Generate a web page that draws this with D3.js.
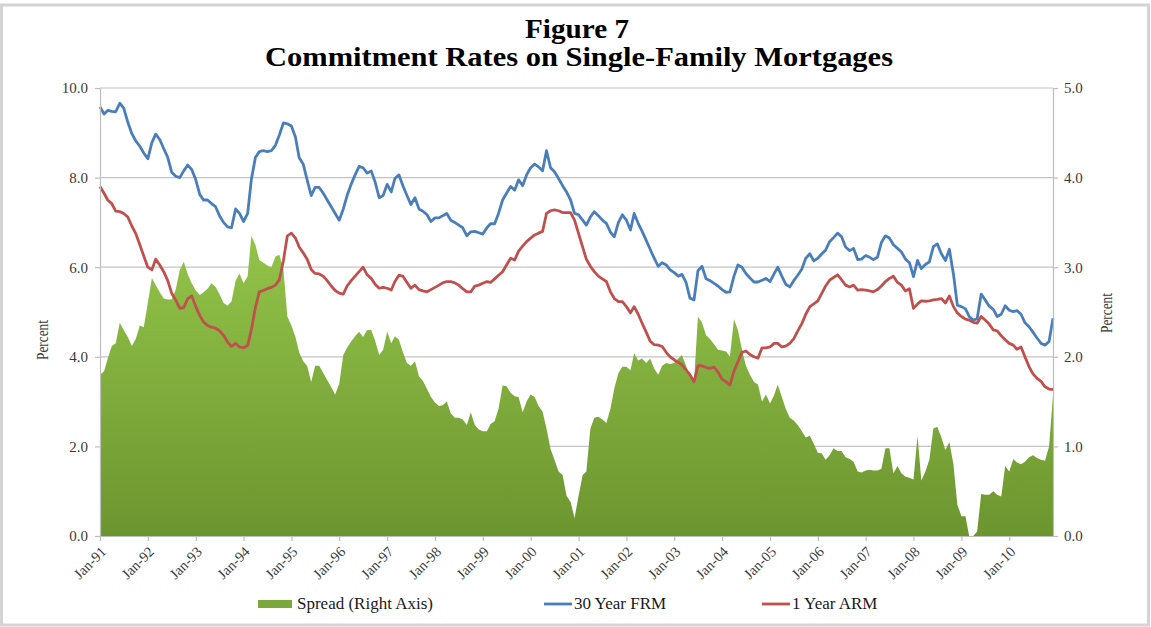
<!DOCTYPE html>
<html><head><meta charset="utf-8">
<script src="https://cdn.jsdelivr.net/npm/d3@7"></script>
<style>body{margin:0;background:#fff;} svg{display:block;}</style>
</head><body>
<svg id="chart" width="1151" height="627"></svg>
<script>
// ---- DATA (monthly, Jan-1991 .. Dec-2010) ----
const firstMonth = [1991, 0];
const monthCount = 240;
const leftTicks = [0, 2, 4, 6, 8, 10];
const rightTicks = [0, 1, 2, 3, 4, 5];
const seriesNames = ["Spread (Right Axis)", "30 Year FRM", "1 Year ARM"];

const frm = [
 9.58, 9.42, 9.5, 9.48, 9.47, 9.66, 9.55, 9.24, 8.98, 8.82, 8.7, 8.55,
 8.42, 8.78, 8.97, 8.85, 8.65, 8.45, 8.12, 8.03, 8.0, 8.15, 8.28, 8.18,
 7.95, 7.62, 7.5, 7.5, 7.42, 7.35, 7.15, 7.0, 6.9, 6.88, 7.3, 7.2,
 7.02, 7.2, 7.95, 8.45, 8.58, 8.6, 8.58, 8.6, 8.72, 8.95, 9.22, 9.2,
 9.15, 8.9, 8.45, 8.3, 7.95, 7.6, 7.78, 7.78, 7.65, 7.5, 7.35, 7.2,
 7.05, 7.3, 7.6, 7.85, 8.06, 8.25, 8.22, 8.1, 8.15, 7.9, 7.55, 7.6,
 7.85, 7.68, 7.98, 8.06, 7.82, 7.6, 7.4, 7.55, 7.3, 7.25, 7.17, 7.02,
 7.1, 7.1, 7.15, 7.2, 7.05, 7.0, 6.94, 6.88, 6.7, 6.79, 6.8, 6.77,
 6.74, 6.88, 6.97, 6.97, 7.2, 7.5, 7.65, 7.8, 7.72, 7.95, 7.82, 8.06,
 8.22, 8.3, 8.24, 8.15, 8.6, 8.22, 8.13, 7.98, 7.82, 7.68, 7.5, 7.2,
 7.17, 7.05, 6.94, 7.12, 7.24, 7.15, 7.05, 6.98, 6.78, 6.68, 7.0, 7.17,
 7.05, 6.83, 7.2, 6.98, 6.8, 6.6, 6.4, 6.2, 6.02, 6.1, 6.05, 5.94,
 5.88, 5.8, 5.84, 5.66, 5.31, 5.27, 5.92, 6.02, 5.74, 5.7, 5.64, 5.58,
 5.5, 5.44, 5.45, 5.8, 6.05, 6.0, 5.86, 5.76, 5.67, 5.67, 5.71, 5.75,
 5.68, 5.85, 6.0, 5.8, 5.62, 5.56, 5.7, 5.82, 5.96, 6.2, 6.3, 6.14,
 6.2, 6.3, 6.38, 6.57, 6.66, 6.76, 6.68, 6.45, 6.37, 6.42, 6.17, 6.18,
 6.26, 6.22, 6.17, 6.22, 6.55, 6.7, 6.65, 6.5, 6.42, 6.34, 6.18, 6.1,
 5.79, 6.15, 5.97, 6.06, 6.12, 6.46, 6.52, 6.3, 6.15, 6.4, 5.85, 5.15,
 5.12, 5.07, 4.9, 4.82, 4.85, 5.4, 5.27, 5.13, 5.06, 4.9, 4.95, 5.14,
 5.04, 5.01, 5.03, 4.95, 4.76, 4.67, 4.55, 4.42, 4.3, 4.26, 4.34, 4.86
];

const arm = [
 7.8, 7.65, 7.5, 7.42, 7.25, 7.24, 7.2, 7.12, 6.92, 6.75, 6.5, 6.25,
 6.0, 5.94, 6.18, 6.05, 5.9, 5.7, 5.42, 5.27, 5.08, 5.1, 5.3, 5.36,
 5.12, 4.92, 4.78, 4.7, 4.66, 4.64, 4.58, 4.48, 4.33, 4.23, 4.3, 4.22,
 4.2, 4.25, 4.6, 5.1, 5.45, 5.48, 5.52, 5.55, 5.6, 5.72, 6.15, 6.7,
 6.76, 6.65, 6.45, 6.32, 6.18, 5.95, 5.86, 5.85, 5.8, 5.7, 5.58, 5.48,
 5.42, 5.4, 5.58, 5.7, 5.8, 5.9, 6.0, 5.83, 5.75, 5.62, 5.53, 5.55,
 5.53, 5.49, 5.68, 5.82, 5.8, 5.66, 5.53, 5.6, 5.5, 5.47, 5.45, 5.5,
 5.55, 5.6, 5.65, 5.68, 5.68, 5.65, 5.6, 5.52, 5.45, 5.45, 5.58, 5.6,
 5.64, 5.68, 5.66, 5.74, 5.82, 5.9, 6.05, 6.2, 6.16, 6.36, 6.47, 6.57,
 6.65, 6.72, 6.76, 6.8, 7.2, 7.26, 7.28, 7.26, 7.22, 7.22, 7.22, 7.05,
 6.75, 6.45, 6.18, 6.02, 5.9, 5.8, 5.74, 5.68, 5.45, 5.3, 5.23, 5.23,
 5.12, 4.98, 5.12, 4.95, 4.75, 4.55, 4.35, 4.27, 4.26, 4.23, 4.1, 4.0,
 3.93, 3.88, 3.82, 3.71, 3.6, 3.44, 3.8, 3.8, 3.76, 3.74, 3.77, 3.66,
 3.5, 3.44, 3.37, 3.68, 3.89, 4.1, 4.13, 4.05, 4.0, 3.97, 4.2, 4.2,
 4.22, 4.3, 4.3, 4.22, 4.24, 4.3, 4.4, 4.58, 4.74, 4.95, 5.12, 5.18,
 5.25, 5.42, 5.58, 5.71, 5.77, 5.83, 5.72, 5.6, 5.56, 5.6, 5.49, 5.5,
 5.49, 5.47, 5.45, 5.5, 5.58, 5.68, 5.75, 5.8, 5.66, 5.6, 5.47, 5.52,
 5.08, 5.18, 5.25, 5.24, 5.25, 5.27, 5.28, 5.3, 5.2, 5.36, 5.12, 4.98,
 4.9, 4.84, 4.82, 4.77, 4.75, 4.9, 4.82, 4.73, 4.6, 4.58, 4.47, 4.38,
 4.3, 4.26, 4.17, 4.22, 4.0, 3.78, 3.62, 3.52, 3.45, 3.33, 3.28, 3.27
];

const spread = [
 1.8, 1.84, 1.98, 2.12, 2.15, 2.38, 2.3, 2.22, 2.12, 2.2, 2.35, 2.33,
 2.6, 2.88, 2.8, 2.72, 2.65, 2.64, 2.64, 2.75, 2.97, 3.06, 2.92, 2.82,
 2.74, 2.69, 2.72, 2.76, 2.82, 2.78, 2.7, 2.6, 2.57, 2.62, 2.85, 2.93,
 2.82, 2.9, 3.35, 3.25, 3.08, 3.05, 3.02, 3.0, 3.12, 3.14, 2.98, 2.45,
 2.35, 2.22, 2.05, 1.95, 1.9, 1.72, 1.9, 1.9, 1.82, 1.74, 1.66, 1.58,
 1.7, 2.02, 2.1, 2.17, 2.23, 2.28, 2.22, 2.3, 2.3, 2.18, 2.02, 2.08,
 2.28, 2.15, 2.23, 2.19, 2.05, 1.93, 1.9, 1.95, 1.78, 1.73, 1.64, 1.55,
 1.49, 1.45, 1.46, 1.5, 1.37, 1.32, 1.32, 1.3, 1.24, 1.38, 1.24, 1.19,
 1.17, 1.17, 1.25, 1.28, 1.42, 1.68, 1.67, 1.6, 1.56, 1.55, 1.38, 1.5,
 1.58, 1.55, 1.45, 1.39, 1.2, 0.97, 0.85, 0.72, 0.68, 0.45, 0.38, 0.2,
 0.45, 0.68, 0.72, 1.2, 1.32, 1.33, 1.3, 1.26, 1.42, 1.65, 1.82, 1.89,
 1.89, 1.85, 2.04, 1.96, 1.98, 1.93, 1.98, 1.87, 1.8, 1.9, 1.93, 1.92,
 1.93, 1.98, 2.02, 1.9, 1.78, 1.72, 2.45, 2.38, 2.24, 2.2, 2.14, 2.08,
 2.07, 2.06, 2.0, 2.42, 2.3, 2.08, 1.9, 1.8, 1.72, 1.69, 1.5, 1.58,
 1.48, 1.57, 1.69, 1.55, 1.42, 1.32, 1.29, 1.24, 1.17, 1.1, 1.12, 1.03,
 0.93, 0.92, 0.85, 0.9, 0.98, 0.95, 0.95, 0.88, 0.86, 0.83, 0.72, 0.71,
 0.73, 0.74, 0.73, 0.73, 0.75, 0.98, 0.98, 0.7, 0.78, 0.7, 0.66, 0.65,
 0.63, 1.12, 0.62, 0.72, 0.85, 1.2, 1.22, 1.1, 0.96, 1.05, 0.8, 0.35,
 0.22, 0.22, 0.0, 0.0, 0.05, 0.47, 0.46, 0.46, 0.5, 0.46, 0.44, 0.78,
 0.72, 0.86, 0.82, 0.8, 0.83, 0.88, 0.9, 0.87, 0.85, 0.84, 1.0, 1.57
];

// ---- CHART ----
const svg = d3.select("#chart");
const M = {left: 100, right: 1053, top: 88, bottom: 536};
const serif = "'Liberation Serif','Times New Roman',serif";
const months = d3.range(monthCount).map(i => new Date(firstMonth[0], firstMonth[1] + i, 1));

const x = d3.scaleTime().domain([months[0], months[monthCount - 1]]).range([M.left, M.right]);
const yL = d3.scaleLinear().domain([0, 10]).range([M.bottom, M.top]);
const yR = d3.scaleLinear().domain([0, 5]).range([M.bottom, M.top]);

// frame
svg.append("rect").attr("x", 1.5).attr("y", 5).attr("width", 1147).attr("height", 620)
  .attr("fill", "#fff").attr("stroke", "#d4d4d4").attr("stroke-width", 3);

// gradient for area
const defs = svg.append("defs");
const grad = defs.append("linearGradient").attr("id", "g").attr("gradientUnits", "userSpaceOnUse")
  .attr("x1", 0).attr("x2", 0).attr("y1", 230).attr("y2", M.bottom);
grad.append("stop").attr("offset", 0).attr("stop-color", "#94c54a");
grad.append("stop").attr("offset", 1).attr("stop-color", "#6c952f");

// gridlines
svg.append("g").selectAll("line").data(leftTicks.filter(d => d > 0)).join("line")
  .attr("x1", M.left).attr("x2", M.right)
  .attr("y1", d => yL(d)).attr("y2", d => yL(d))
  .attr("stroke", "#c4c4c4").attr("stroke-width", 1.2);

// spread area
const area = d3.area().x((d, i) => x(months[i])).y0(yR(0)).y1(d => yR(d));
svg.append("path").datum(spread).attr("d", area).attr("fill", "url(#g)");

// lines
const lineL = d3.line().x((d, i) => x(months[i])).y(d => yL(d));
svg.append("path").datum(frm).attr("d", lineL).attr("fill", "none")
  .attr("stroke", "#4a7ebb").attr("stroke-width", 2.8).attr("stroke-linejoin", "round");
svg.append("path").datum(arm).attr("d", lineL).attr("fill", "none")
  .attr("stroke", "#c0504d").attr("stroke-width", 2.8).attr("stroke-linejoin", "round");

// axes
function styleAxis(g) {
  g.selectAll(".domain").attr("stroke", "#bdbdbd").attr("stroke-width", 1.2);
  g.selectAll(".tick line").attr("stroke", "#bdbdbd").attr("stroke-width", 1.2);
  g.selectAll("text").attr("font-family", serif).attr("fill", "#3a3a3a");
}
const gL = svg.append("g").attr("transform", `translate(${M.left},0)`)
  .call(d3.axisLeft(yL).tickValues(leftTicks).tickFormat(d3.format(".1f")).tickSize(5).tickPadding(7).tickSizeOuter(0));
styleAxis(gL); gL.selectAll("text").attr("font-size", 15);
const gR = svg.append("g").attr("transform", `translate(${M.right},0)`)
  .call(d3.axisRight(yR).tickValues(rightTicks).tickFormat(d3.format(".1f")).tickSize(5).tickPadding(6).tickSizeOuter(0));
styleAxis(gR); gR.selectAll("text").attr("font-size", 15);
const gB = svg.append("g").attr("transform", `translate(0,${M.bottom})`)
  .call(d3.axisBottom(x).ticks(d3.timeYear.every(1)).tickFormat(d3.timeFormat("%b-%y")).tickSize(5).tickSizeOuter(0));
styleAxis(gB);
gB.selectAll("text").attr("font-size", 14.5).attr("text-anchor", "end")
  .attr("y", 0).attr("dy", "0.35em")
  .attr("transform", "translate(3,13) rotate(-45)");

// axis titles
svg.append("text").attr("transform", "translate(48,340) rotate(-90)")
  .attr("text-anchor", "middle").attr("font-family", serif).attr("font-size", 17)
  .attr("textLength", 40).attr("lengthAdjust", "spacingAndGlyphs").attr("fill", "#3a3a3a").text("Percent");
svg.append("text").attr("transform", "translate(1112,313) rotate(-90)")
  .attr("text-anchor", "middle").attr("font-family", serif).attr("font-size", 17)
  .attr("textLength", 40).attr("lengthAdjust", "spacingAndGlyphs").attr("fill", "#3a3a3a").text("Percent");

// titles
svg.append("text").attr("x", 577).attr("y", 38).attr("text-anchor", "middle")
  .attr("font-family", serif).attr("font-weight", "bold").attr("font-size", 27)
  .attr("textLength", 104).attr("lengthAdjust", "spacingAndGlyphs").text("Figure 7");
svg.append("text").attr("x", 579).attr("y", 66).attr("text-anchor", "middle")
  .attr("font-family", serif).attr("font-weight", "bold").attr("font-size", 27)
  .attr("textLength", 628).attr("lengthAdjust", "spacingAndGlyphs").text("Commitment Rates on Single-Family Mortgages");

// legend
const lg = svg.append("g").attr("font-family", serif).attr("font-size", 17).attr("fill", "#1a1a1a");
lg.append("rect").attr("x", 258).attr("y", 600).attr("width", 34).attr("height", 8).attr("fill", "#7aa83b");
lg.append("text").attr("x", 297).attr("y", 609).text(seriesNames[0]);
lg.append("line").attr("x1", 544).attr("x2", 572).attr("y1", 604).attr("y2", 604).attr("stroke", "#4a7ebb").attr("stroke-width", 2.8);
lg.append("text").attr("x", 574).attr("y", 609).text(seriesNames[1]);
lg.append("line").attr("x1", 762).attr("x2", 790).attr("y1", 604).attr("y2", 604).attr("stroke", "#c0504d").attr("stroke-width", 2.8);
lg.append("text").attr("x", 792).attr("y", 609).text(seriesNames[2]);
</script>
</body></html>
